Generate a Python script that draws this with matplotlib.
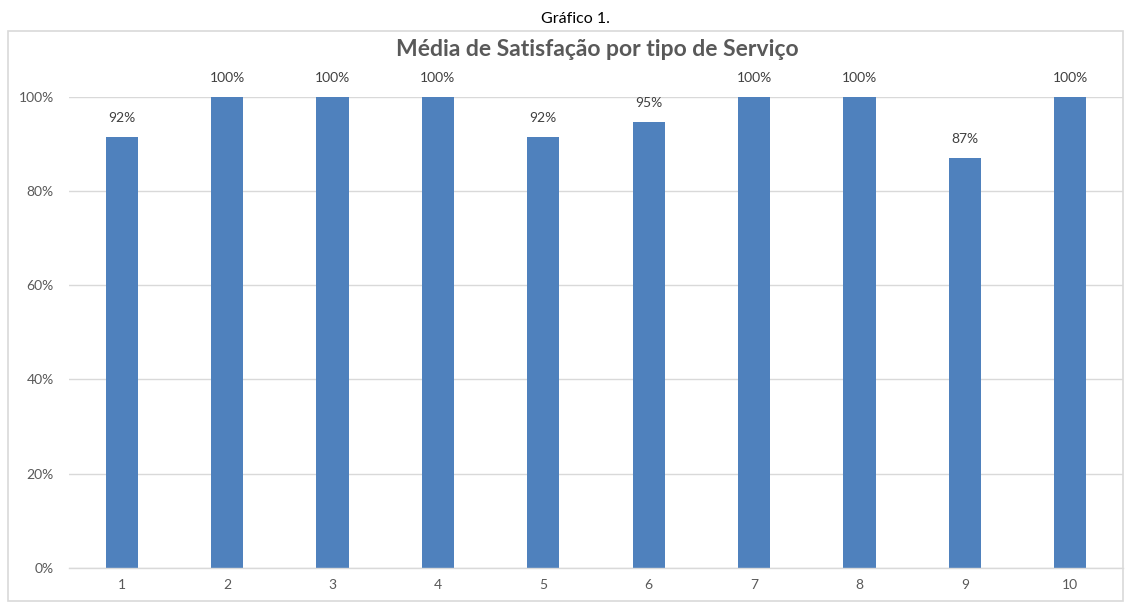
import matplotlib
matplotlib.use("Agg")
import matplotlib.pyplot as plt
from matplotlib.patches import Rectangle
from matplotlib.ticker import PercentFormatter

# Values
servicos = ["1", "2", "3", "4", "5", "6", "7", "8", "9", "10"]
satisfacao = [0.915, 1.0, 1.0, 1.0, 0.915, 0.947, 1.0, 1.0, 0.87, 1.0]
rotulos = ["92%", "100%", "100%", "100%", "92%", "95%", "100%", "100%", "87%", "100%"]

plt.rcParams["font.family"] = ["Lato", "DejaVu Sans"]

fig = plt.figure(figsize=(11.29, 6.02), dpi=100)
ax = fig.add_axes([0.0611, 0.0565, 0.9336, 0.7829])

# chart frame
fig.patches.append(Rectangle((8 / 1129, 1 / 602), 1115 / 1129, 570 / 602,
                             transform=fig.transFigure, fill=False,
                             edgecolor="#d9d9d9", linewidth=1.2))

x = range(len(servicos))
bars = ax.bar(x, satisfacao, width=0.305, color="#4f81bd", zorder=3)

for b, lab in zip(bars, rotulos):
    ax.annotate(lab, (b.get_x() + b.get_width() / 2, b.get_height()),
                xytext=(0, 9), textcoords="offset points",
                ha="center", va="bottom", fontsize=10, color="#404040")

ax.set_xlim(-0.5, len(servicos) - 0.5)
ax.set_ylim(0, 1.0)
ax.set_xticks(list(x))
ax.set_xticklabels(servicos)
ax.set_yticks([0, 0.2, 0.4, 0.6, 0.8, 1.0])
ax.yaxis.set_major_formatter(PercentFormatter(1.0, decimals=0))
ax.tick_params(axis="both", length=0, labelsize=10, labelcolor="#595959")
ax.tick_params(axis="y", pad=11)
ax.tick_params(axis="x", pad=8)
ax.grid(axis="y", color="#d9d9d9", linewidth=1, zorder=0)
ax.set_axisbelow(True)
for s in ["top", "right", "left"]:
    ax.spines[s].set_visible(False)
ax.spines["bottom"].set_color("#d9d9d9")
ax.spines["bottom"].set_linewidth(1)
ax.spines["bottom"].set_zorder(4)

fig.text(597 / 1129, 1 - 49 / 602, "Média de Satisfação por tipo de Serviço",
         ha="center", va="center", fontsize=16.5, fontweight="bold", color="#595959")
fig.text(575 / 1129, 1 - 19 / 602, "Gráfico 1.", ha="center", va="center",
         fontsize=11.5, color="black")

fig.savefig("out.png", dpi=100)
